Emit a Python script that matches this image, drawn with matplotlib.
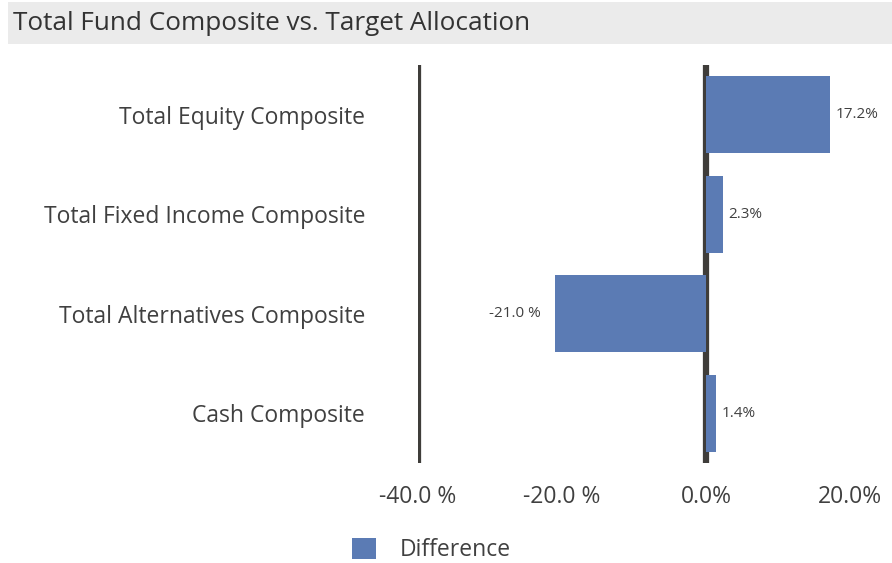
import matplotlib
matplotlib.use("Agg")
import matplotlib.pyplot as plt
from matplotlib.patches import Rectangle, Patch

plt.rcParams['font.family'] = ['Open Sans', 'DejaVu Sans']

categories = ["Total Equity Composite", "Total Fixed Income Composite",
              "Total Alternatives Composite", "Cash Composite"]
difference = [17.2, 2.3, -21.0, 1.4]
value_labels = ["17.2%", "2.3%", "-21.0 %", "1.4%"]
xticks = [-40, -20, 0, 20]
xtick_labels = ["-40.0 %", "-20.0 %", "0.0%", "20.0%"]

bar_color = "#5B7BB4"
line_color = "#3F3D3A"
text_color = "#404040"

fig = plt.figure(figsize=(8.92, 5.63), dpi=100)

# title band
fig.patches.append(Rectangle((8 / 892, 1 - 44 / 563), 884 / 892, 42 / 563,
                             transform=fig.transFigure, facecolor="#EBEBEB",
                             edgecolor="none", zorder=0))
fig.text(13 / 892, 1 - 24 / 563, "Total Fund Composite vs. Target Allocation",
         fontsize=18.8, color="#333333", va="center", ha="left")

ax = fig.add_axes([418 / 892, 1 - 463 / 563, (886 - 418) / 892, (463 - 65) / 563])
ypos = list(range(len(categories)))
ax.barh(ypos, difference, height=0.77, color=bar_color, zorder=2, label="Difference")
ax.set_xlim(-40, 25)
ax.set_ylim(3.5, -0.5)

for s in ["top", "right", "bottom", "left"]:
    ax.spines[s].set_visible(False)
ax.axvline(-40, color=line_color, lw=4.5, zorder=3)
ax.axvline(0, color=line_color, lw=4.5, zorder=1)

ax.set_yticks(ypos)
ax.set_yticklabels(categories, fontsize=16.5, color=text_color)
ax.set_xticks(xticks)
ax.set_xticklabels(xtick_labels, fontsize=16.5, color=text_color)
ax.tick_params(axis="y", length=0, pad=38)
ax.tick_params(axis="x", length=0, pad=16)

for y, v, lab in zip(ypos, difference, value_labels):
    if v >= 0:
        ax.annotate(lab, (v, y), xytext=(4, 0), textcoords="offset points",
                    ha="left", va="center", fontsize=11, color=text_color)
    else:
        ax.annotate(lab, (v, y), xytext=(-10, 0), textcoords="offset points",
                    ha="right", va="center", fontsize=11, color=text_color)

fig.legend(handles=[Patch(facecolor=bar_color, label="Difference")],
           loc="center left", bbox_to_anchor=(331 / 892, 1 - 550 / 563),
           frameon=False, fontsize=16.5, handlelength=1.05, handleheight=1.05,
           handletextpad=1.05, labelcolor=text_color)

fig.savefig("out.png", dpi=100)
